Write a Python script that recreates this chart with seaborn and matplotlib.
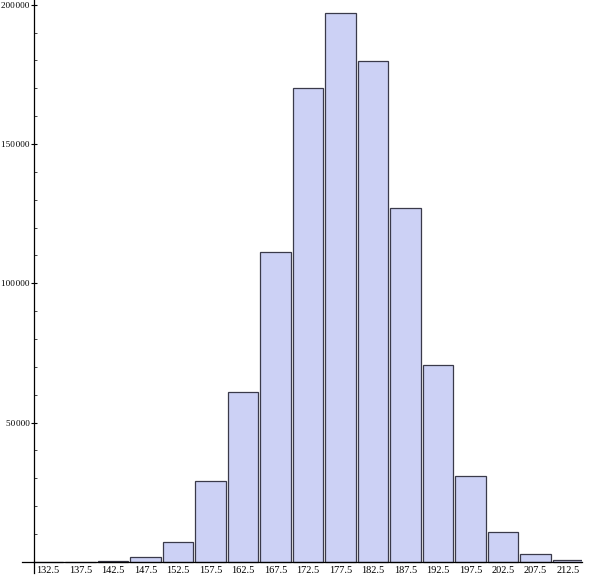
import matplotlib
matplotlib.use("Agg")
import matplotlib.pyplot as plt
import seaborn as sns
import pandas as pd
from matplotlib.ticker import MultipleLocator, FixedLocator

categories = ["132.5", "137.5", "142.5", "147.5", "152.5", "157.5", "162.5", "167.5",
              "172.5", "177.5", "182.5", "187.5", "192.5", "197.5", "202.5", "207.5", "212.5"]
counts = [0, 0, 400, 1900, 7100, 29000, 61000, 111200, 170200, 197000, 179800,
          127000, 70700, 30900, 10800, 2900, 700]
ytick_values = [50000, 100000, 150000, 200000]
ytick_labels = ["50\u200a000", "100\u200a000", "150\u200a000", "200\u200a000"]

df = pd.DataFrame({"bin": categories, "count": counts})

sns.set_style("white")
plt.rcParams["font.family"] = ["Liberation Serif", "DejaVu Serif"]

fig = plt.figure(figsize=(5.95, 5.79), dpi=100)
W, H = 595, 579
ax = fig.add_axes([22 / W, (H - 573) / H, (582 - 22) / W, 573 / H])

sns.barplot(data=df, x="bin", y="count", color="#ccd1f5", saturation=1,
            width=0.94, edgecolor="#3a3a4a", linewidth=0.9, ax=ax)

ax.set_xlim(-0.8, 16.43)
ax.set_ylim(-4000, 201700)

for s in ["top", "right"]:
    ax.spines[s].set_visible(False)
ax.spines["left"].set_position(("data", -0.43))
ax.spines["bottom"].set_position(("data", 0))
ax.spines["left"].set_color("black")
ax.spines["bottom"].set_color("black")
ax.spines["left"].set_linewidth(0.9)
ax.spines["bottom"].set_linewidth(0.9)

ax.yaxis.set_major_locator(FixedLocator(ytick_values))
ax.set_yticklabels(ytick_labels)
ax.yaxis.set_minor_locator(MultipleLocator(10000))
ax.tick_params(axis="y", which="major", direction="inout", length=5, width=0.8,
               labelsize=6.6, pad=0.5, colors="black", left=True)
ax.tick_params(axis="y", which="minor", direction="in", length=2.5, width=0.6,
               left=True)
ax.tick_params(axis="x", length=0, labelsize=7.5, pad=3, colors="black")
ax.set_xlabel("")
ax.set_ylabel("")
ax.patch.set_alpha(0)

fig.savefig("out.png", dpi=100, facecolor="white")
